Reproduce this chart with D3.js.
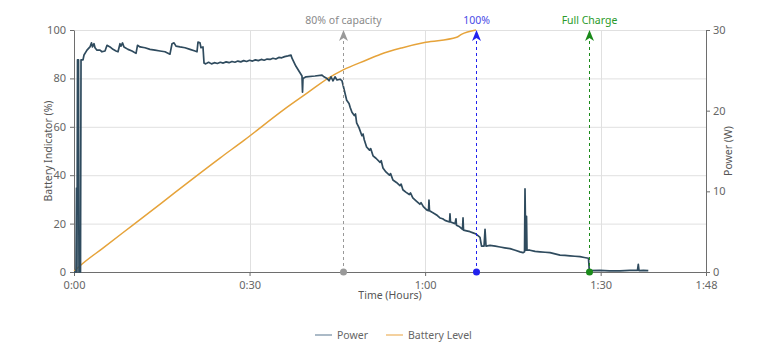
<!DOCTYPE html>
<html><head><meta charset="utf-8">
<script src="https://cdn.jsdelivr.net/npm/d3@7"></script>
<style>
html,body{margin:0;padding:0;background:#fff;}
text{font-family:"Noto Sans","Open Sans",sans-serif;}
</style></head>
<body>
<svg id="c" width="760" height="348"></svg>
<script>
// Time in minutes, power in W
const powerTime = [0,0.34,0.43,0.51,0.60,0.77,0.85,1.11,1.20,1.54,1.71,2.22,2.73,2.99,3.16,3.42,3.59,3.93,4.44,4.78,5.30,5.64,6.15,6.66,7.18,7.52,7.86,8.03,8.29,8.54,9.23,9.91,10.6,10.85,11.28,12.13,12.99,13.84,14.70,15.55,16.40,16.75,17.09,17.43,18.11,18.97,19.82,20.68,21.02,21.19,21.53,21.70,22.04,22.22,
  22.5,23.0,23.5,24.0,24.5,25.0,25.5,26.0,26.5,27.0,27.5,28.0,28.5,29.0,29.5,30.0,30.5,31.0,31.5,32.0,32.5,33.0,33.5,34.0,34.5,35.0,35.5,36.0,36.57,37.08,
  37.25,37.93,38.62,38.96,39.05,39.13,39.65,41.18,42.38,42.72,43.23,43.58,43.92,44.26,44.60,44.94,45.46,45.80,
  46.2,46.6,47.0,47.2,47.5,47.9,48.1,48.3,48.7,49.2,49.4,49.6,50.0,50.5,50.7,51.1,51.6,52.3,52.5,52.8,53.3,53.9,54.1,54.5,55.1,55.7,55.9,56.2,56.7,57.3,57.5,57.9,58.5,59.1,59.3,59.7,60.27,
  60.58,60.66,60.75,61.2,61.69,62.1,62.54,63.0,63.40,64.17,64.25,64.34,65.11,65.28,65.36,65.9,66.39,66.48,66.56,67.1,67.67,68.2,68.70,69.04,69.38,69.64,70.07,70.24,70.41,71.09,
  72.0,72.80,73.6,74.51,75.4,76.22,76.73,76.99,77.07,77.21,77.33,77.41,77.92,78.8,79.63,80.5,81.34,82.2,83.05,83.9,84.76,85.6,86.47,87.2,87.92,88.06,89.89,91.5,93.30,95.0,96.29,96.43,96.55,97.3,98.14];
const powerW = [0,0,10.4,0,26.3,26.3,0,0,26.3,26.3,26.9,27.5,27.9,28.4,27.9,28.3,27.8,27.5,27.5,27.3,27.4,28.1,27.9,27.6,27.4,27.3,28.3,28.0,28.4,27.9,27.6,27.4,27.1,28.1,27.9,27.8,27.6,27.5,27.4,27.3,27.0,28.3,28.4,28.0,27.9,27.8,27.6,27.4,27.3,28.5,28.4,27.8,27.9,25.9,
  25.8,26.0,25.8,25.95,25.85,26.0,25.9,26.05,25.95,26.1,26.0,26.15,26.05,26.2,26.1,26.25,26.15,26.3,26.2,26.35,26.25,26.4,26.35,26.5,26.4,26.6,26.55,26.7,26.8,26.9,
  26.5,25.5,24.7,24.3,22.3,24.0,24.2,24.3,24.4,24.2,24.0,23.7,24.2,23.7,24.2,23.8,23.9,23.7,
  22.5,21.3,20.9,20.4,19.8,19.4,19.6,18.5,17.9,16.9,17.1,16.4,15.5,15.1,15.3,14.4,14.1,13.6,13.8,12.9,12.4,12.0,12.2,11.4,11.1,10.7,10.9,10.2,9.9,9.6,9.8,9.2,8.8,8.4,8.6,8.1,7.7,
  7.6,8.9,7.6,7.4,7.2,7.0,6.7,6.6,6.4,6.2,7.2,6.2,6.0,6.6,5.8,5.6,5.3,6.7,5.2,5.1,5.0,4.85,4.7,4.5,4.3,3.2,3.2,5.3,3.2,3.3,
  3.2,3.1,3.0,2.9,2.7,2.5,2.4,2.5,10.3,2.7,6.9,2.7,2.7,2.55,2.5,2.45,2.4,2.25,2.1,2.05,2.0,1.95,1.9,1.8,1.7,0.16,0.19,0.15,0.15,0.2,0.19,0.95,0.17,0.2,0.17];
// Battery level in %
const batteryTime = [0,1,5,10,15,20,25,29.1,35.8,40,43.4,46,50,52.3,56,60.1,65.4,66.2,68.7];
const batteryPct = [0.3,2.5,10,19.3,28.6,38,47.2,54.5,67,74.2,80,83.5,87.6,89.9,92.6,94.9,97,98.2,100];
// markers
const markerTime = [46, 68.7, 88];
const markerLabel = ["80% of capacity","100%","Full Charge"];
const markerColor = ["#999999","#2222ee","#1a8a1a"];
const markerText = ["#8a8a8a","#4a4ae6","#2a9a2a"];
const xTickVals = [0,30,60,90,108];
const xTickLabels = ["0:00","0:30","1:00","1:30","1:48"];
const yLeftTicks = [0,20,40,60,80,100];
const yRightTicks = [0,10,20,30];

const svg = d3.select("#c");
const L=74,R=706,T=30,B=272;
const x = d3.scaleLinear().domain([0,108]).range([L,R]);
const yL = d3.scaleLinear().domain([0,100]).range([B,T]);
const yR = d3.scaleLinear().domain([0,30]).range([B,T]);

// grid
svg.append("g").selectAll("line").data(yLeftTicks.filter(d=>d>0)).join("line")
 .attr("x1",L).attr("x2",R).attr("y1",d=>yL(d)+0.5).attr("y2",d=>yL(d)+0.5)
 .attr("stroke","#e0e0e0").attr("stroke-width",1);
svg.append("g").selectAll("line").data([30,60,90]).join("line")
 .attr("x1",d=>Math.round(x(d))+0.5).attr("x2",d=>Math.round(x(d))+0.5).attr("y1",T).attr("y2",B)
 .attr("stroke","#e0e0e0").attr("stroke-width",1);

// axes
const ax = svg.append("g").attr("transform",`translate(0,${B})`)
 .call(d3.axisBottom(x).tickValues(xTickVals).tickFormat((d,i)=>xTickLabels[i]).tickSize(4).tickSizeOuter(0));
const al = svg.append("g").attr("transform",`translate(${L},0)`)
 .call(d3.axisLeft(yL).tickValues(yLeftTicks).tickSize(4).tickSizeOuter(0));
const ar = svg.append("g").attr("transform",`translate(${R},0)`)
 .call(d3.axisRight(yR).tickValues(yRightTicks).tickSize(4).tickSizeOuter(0));
[ax,al,ar].forEach(g=>{
  g.selectAll("path").attr("stroke","#6e6e6e");
  g.selectAll("line").attr("stroke","#6e6e6e");
  g.selectAll("text").attr("fill","#666").style("font-size","11px");
});
ax.selectAll("text").attr("dy","0.95em");
al.selectAll("text").attr("dx","-1px");

// axis titles
svg.append("text").attr("x",390).attr("y",299).attr("text-anchor","middle")
 .attr("fill","#555").style("font-size","10.5px").text("Time (Hours)");
svg.append("text").attr("transform",`translate(52,${(T+B)/2}) rotate(-90)`).attr("text-anchor","middle")
 .attr("fill","#555").style("font-size","10.5px").text("Battery Indicator (%)");
svg.append("text").attr("transform",`translate(732,${(T+B)/2}) rotate(-90)`).attr("text-anchor","middle")
 .attr("fill","#555").style("font-size","10.5px").text("Power (W)");

// lines
const powerData = powerTime.map((t,i)=>[t,powerW[i]]);
const batData = batteryTime.map((t,i)=>[t,batteryPct[i]]);
svg.append("path").datum(batData)
 .attr("d",d3.line().x(d=>x(d[0])).y(d=>yL(d[1])).curve(d3.curveMonotoneX))
 .attr("fill","none").attr("stroke","#e6a33a").attr("stroke-width",1.5);
svg.append("path").datum(powerData)
 .attr("d",d3.line().x(d=>x(d[0])).y(d=>yR(d[1])))
 .attr("fill","none").attr("stroke","#2f4b5e").attr("stroke-width",1.7).attr("stroke-linejoin","round");

// markers
markerTime.forEach((t,i)=>{
  const mx = Math.round(x(t))+0.5;
  svg.append("line").attr("x1",mx).attr("x2",mx).attr("y1",B).attr("y2",T+6)
    .attr("stroke",markerColor[i]).attr("stroke-width",1).attr("stroke-dasharray","3,3");
  svg.append("path").attr("d",`M${mx},${T} L${mx-4.5},${T+11} L${mx},${T+8} L${mx+4.5},${T+11} Z`)
    .attr("fill",markerColor[i]);
  svg.append("circle").attr("cx",mx).attr("cy",B).attr("r",3.5).attr("fill",markerColor[i]);
  svg.append("text").attr("x",mx).attr("y",T-6).attr("text-anchor","middle")
    .attr("fill",markerText[i]).style("font-size","10.5px").text(markerLabel[i]);
});

// legend
const leg = [["Power","#8fa3b5",315],["Battery Level","#f0c27f",386]];
leg.forEach(([name,col,lx])=>{
  svg.append("line").attr("x1",lx).attr("x2",lx+17).attr("y1",335).attr("y2",335).attr("stroke",col).attr("stroke-width",1.5);
  svg.append("text").attr("x",lx+22).attr("y",338.5).attr("fill","#666").style("font-size","10.5px").text(name);
});
</script>
</body></html>
